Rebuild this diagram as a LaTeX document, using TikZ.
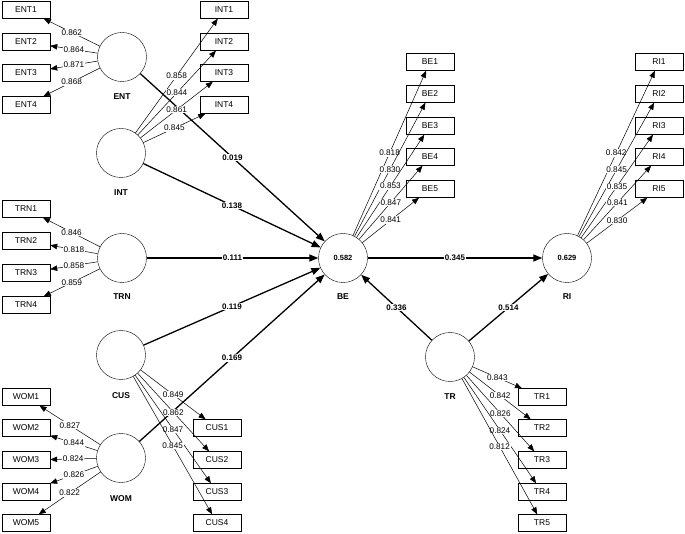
\documentclass[tikz,border=0pt]{standalone}
\usepackage{fontspec}
\setmainfont{Liberation Sans}
\usetikzlibrary{arrows.meta}

\tikzset{
  lv/.style={draw,circle,minimum size=49pt,inner sep=0pt,font=\fontsize{7.5}{9}\selectfont\bfseries},
  lvname/.style={font=\fontsize{8.5}{9}\selectfont\bfseries},
  ind/.style={draw,rectangle,minimum width=48pt,minimum height=17pt,inner sep=0pt,font=\fontsize{8.5}{9}\selectfont},
  load/.style={-{Triangle[length=7pt,width=5.5pt]},line width=0.5pt},
  struct/.style={-{Triangle[length=9pt,width=7pt]},line width=1.3pt},
  lval/.style={fill=white,inner sep=0.8pt},
  coef/.style={fill=white,inner sep=0.8pt,font=\fontsize{8}{9}\selectfont\bfseries},
}

\begin{document}
\begin{tikzpicture}[x=1pt,y=-1pt,font=\fontsize{8.2}{9}\selectfont]
\useasboundingbox (0,0) rectangle (685,534);

% latent variables
\node[lv] (ENT) at (122,57) {};
\node[lv] (INT) at (121,153) {};
\node[lv] (TRN) at (122,258) {};
\node[lv] (CUS) at (121,355) {};
\node[lv] (WOM) at (121,458) {};
\node[lv] (BE) at (343,258) {0.582};
\node[lv] (RI) at (567,258) {0.629};
\node[lv] (TR) at (450,357) {};

\node[lvname] (ENTname) at (122,97) {ENT};
\node[lvname] (INTname) at (121,193) {INT};
\node[lvname] (TRNname) at (122,297) {TRN};
\node[lvname] (CUSname) at (121,396) {CUS};
\node[lvname] (WOMname) at (121,499) {WOM};
\node[lvname] (BEname) at (343,297) {BE};
\node[lvname] (RIname) at (567,297) {RI};
\node[lvname] (TRname) at (450,397) {TR};

% structural paths
\draw[struct] (ENT) -- node[coef]{0.019} (BE);
\draw[struct] (INT) -- node[coef]{0.138} (BE);
\draw[struct] (TRN) -- node[coef]{0.111} (BE);
\draw[struct] (CUS) -- node[coef]{0.119} (BE);
\draw[struct] (WOM) -- node[coef]{0.169} (BE);
\draw[struct] (BE) -- node[coef]{0.345} (RI);
\draw[struct] (TR) -- node[coef]{0.336} (BE);
\draw[struct] (TR) -- node[coef]{0.514} (RI);

% ENT
\node[ind] (ENT1) at (26,10) {ENT1};
\node[ind] (ENT2) at (26,42) {ENT2};
\node[ind] (ENT3) at (26,73) {ENT3};
\node[ind] (ENT4) at (26,105) {ENT4};
\draw[load] (ENT) -- node[lval]{0.862} (ENT1);
\draw[load] (ENT) -- node[lval]{0.864} (ENT2);
\draw[load] (ENT) -- node[lval]{0.871} (ENT3);
\draw[load] (ENT) -- node[lval]{0.868} (ENT4);

% INT
\node[ind] (INT1) at (224,10) {INT1};
\node[ind] (INT2) at (224,42) {INT2};
\node[ind] (INT3) at (224,73) {INT3};
\node[ind] (INT4) at (224,105) {INT4};
\draw[load] (INT) -- node[lval]{0.858} (INT1);
\draw[load] (INT) -- node[lval]{0.844} (INT2);
\draw[load] (INT) -- node[lval]{0.861} (INT3);
\draw[load] (INT) -- node[lval]{0.845} (INT4);

% TRN
\node[ind] (TRN1) at (26,209) {TRN1};
\node[ind] (TRN2) at (26,241) {TRN2};
\node[ind] (TRN3) at (26,273) {TRN3};
\node[ind] (TRN4) at (26,305) {TRN4};
\draw[load] (TRN) -- node[lval]{0.846} (TRN1);
\draw[load] (TRN) -- node[lval]{0.818} (TRN2);
\draw[load] (TRN) -- node[lval]{0.858} (TRN3);
\draw[load] (TRN) -- node[lval]{0.859} (TRN4);

% WOM
\node[ind] (WOM1) at (26,397) {WOM1};
\node[ind] (WOM2) at (26,428) {WOM2};
\node[ind] (WOM3) at (26,460) {WOM3};
\node[ind] (WOM4) at (26,492) {WOM4};
\node[ind] (WOM5) at (26,523) {WOM5};
\draw[load] (WOM) -- node[lval]{0.827} (WOM1);
\draw[load] (WOM) -- node[lval]{0.844} (WOM2);
\draw[load] (WOM) -- node[lval]{0.824} (WOM3);
\draw[load] (WOM) -- node[lval]{0.826} (WOM4);
\draw[load] (WOM) -- node[lval]{0.822} (WOM5);

% CUS
\node[ind] (CUS1) at (217,428) {CUS1};
\node[ind] (CUS2) at (217,460) {CUS2};
\node[ind] (CUS3) at (217,492) {CUS3};
\node[ind] (CUS4) at (217,523) {CUS4};
\draw[load] (CUS) -- node[lval]{0.849} (CUS1);
\draw[load] (CUS) -- node[lval]{0.862} (CUS2);
\draw[load] (CUS) -- node[lval]{0.847} (CUS3);
\draw[load] (CUS) -- node[lval]{0.845} (CUS4);

% BE
\node[ind] (BE1) at (430,62) {BE1};
\node[ind] (BE2) at (430,94) {BE2};
\node[ind] (BE3) at (430,126) {BE3};
\node[ind] (BE4) at (430,157) {BE4};
\node[ind] (BE5) at (430,189) {BE5};
\draw[load] (BE) -- node[lval]{0.818} (BE1);
\draw[load] (BE) -- node[lval]{0.830} (BE2);
\draw[load] (BE) -- node[lval]{0.853} (BE3);
\draw[load] (BE) -- node[lval]{0.847} (BE4);
\draw[load] (BE) -- node[lval]{0.841} (BE5);

% RI
\node[ind] (RI1) at (659,62) {RI1};
\node[ind] (RI2) at (659,94) {RI2};
\node[ind] (RI3) at (659,126) {RI3};
\node[ind] (RI4) at (659,157) {RI4};
\node[ind] (RI5) at (659,189) {RI5};
\draw[load] (RI) -- node[lval]{0.842} (RI1);
\draw[load] (RI) -- node[lval]{0.845} (RI2);
\draw[load] (RI) -- node[lval]{0.835} (RI3);
\draw[load] (RI) -- node[lval]{0.841} (RI4);
\draw[load] (RI) -- node[lval]{0.830} (RI5);

% TR
\node[ind] (TR1) at (542,397) {TR1};
\node[ind] (TR2) at (542,428) {TR2};
\node[ind] (TR3) at (542,460) {TR3};
\node[ind] (TR4) at (542,492) {TR4};
\node[ind] (TR5) at (542,523) {TR5};
\draw[load] (TR) -- node[lval]{0.843} (TR1);
\draw[load] (TR) -- node[lval]{0.842} (TR2);
\draw[load] (TR) -- node[lval]{0.826} (TR3);
\draw[load] (TR) -- node[lval]{0.824} (TR4);
\draw[load] (TR) -- node[lval]{0.812} (TR5);

\end{tikzpicture}
\end{document}
